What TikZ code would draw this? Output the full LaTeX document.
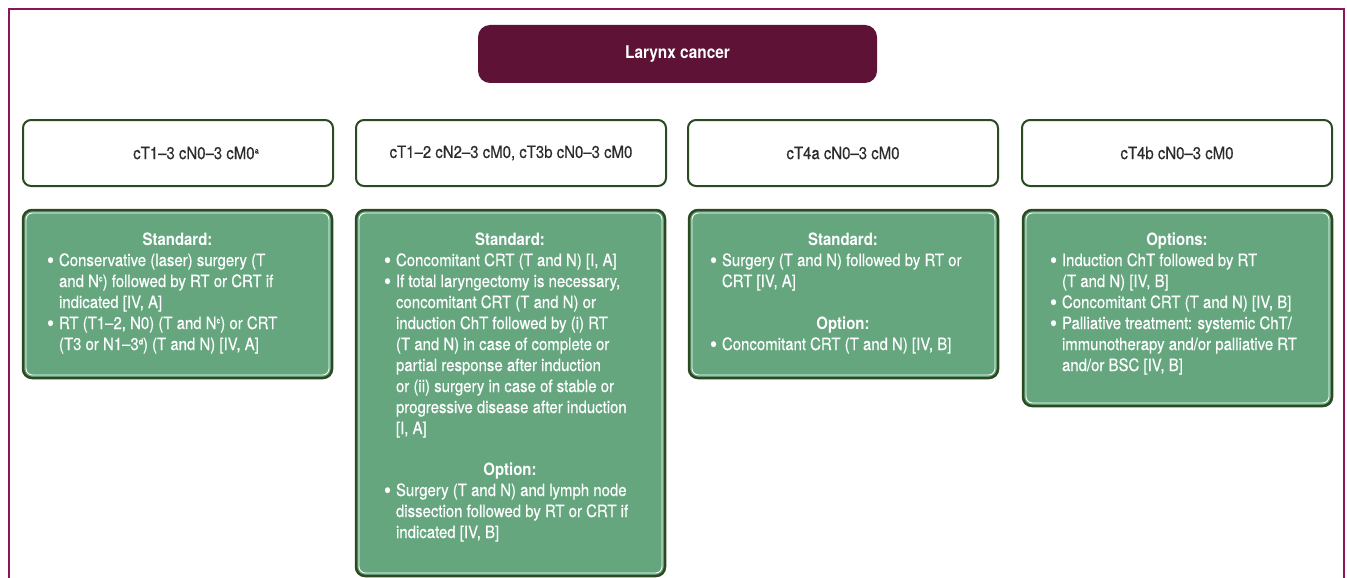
\documentclass[tikz,border=0pt]{standalone}
\usepackage{fontspec}
\setmainfont{TeX Gyre Heros}[FakeStretch=0.88]
\newfontfamily\bodyfont{TeX Gyre Heros}[FakeStretch=0.88, FakeBold=0.4]
\definecolor{frameC}{HTML}{8C1458}
\definecolor{titleC}{HTML}{5D1236}
\definecolor{dkgreen}{HTML}{2C4A21}
\definecolor{boxgreen}{HTML}{65A67F}
\definecolor{stagetxt}{HTML}{2B2B2B}
\newcommand{\bl}{\raisebox{-0.12ex}{\scalebox{1.35}{\bfseries\textbullet}}}
\newcommand{\supr}[1]{\raisebox{0.62ex}{\fontsize{8.5}{8.5}\selectfont #1}}
\begin{document}
\begin{tikzpicture}[x=1pt,y=-1pt,
  every node/.style={inner sep=0pt, outer sep=0pt},
  framepath/.style={draw=frameC, line width=2pt},
  titlebox/.style={fill=titleC, rounded corners=12pt, anchor=north west, minimum width=399pt, minimum height=58pt},
  titletext/.style={text=white, font=\fontsize{17.5}{21}\selectfont\bfseries},
  stagebox/.style={draw=dkgreen, line width=2pt, rounded corners=8pt, fill=white, anchor=north west, minimum width=310pt, minimum height=66pt},
  stagetext/.style={text=stagetxt, font=\bodyfont\fontsize{17}{21}\selectfont},
  greenbox/.style={draw=dkgreen, line width=2.5pt, rounded corners=9pt, fill=boxgreen, anchor=north west, minimum width=309pt},
  innerline/.style={draw=white, line width=0.9pt, rounded corners=6.5pt},
  headtext/.style={text=white, font=\fontsize{17}{21}\selectfont\bfseries, anchor=base},
  listtext/.style={text=white, font=\bodyfont\fontsize{17}{21}\selectfont, anchor=base west, align=left}
]
\useasboundingbox (0,0) rectangle (1347,578);
% frame
\coordinate (fbl) at (9,580);
\coordinate (ftl) at (9,9);
\coordinate (ftr) at (1344,9);
\coordinate (fbr) at (1344,580);
\draw[framepath] (fbl) -- (ftl) -- (ftr) -- (fbr);
% title
\node[titlebox] (title) at (478,25) {};
\node[titletext] (titlet) at (title.center) {Larynx cancer};
% stage boxes
\node[stagebox] (s1) at (23,120) {};
\node[stagebox] (s2) at (356,120) {};
\node[stagebox] (s3) at (688,120) {};
\node[stagebox] (s4) at (1022,120) {};
\node[stagetext] (s1t) at (196,153) {cT1–3 cN0–3 cM0\supr{a}};
\node[stagetext] (s2t) at (s2.center) {cT1–2 cN2–3 cM0, cT3b cN0–3 cM0};
\node[stagetext] (s3t) at (s3.center) {cT4a cN0–3 cM0};
\node[stagetext] (s4t) at (s4.center) {cT4b cN0–3 cM0};
% green boxes
\node[greenbox, minimum height=168pt] (g1) at (23,210) {};
\node[greenbox, minimum height=366pt] (g2) at (356,210) {};
\node[greenbox, minimum height=168pt] (g3) at (689,210) {};
\node[greenbox, minimum height=196pt] (g4) at (1023,210) {};
\foreach \n in {g1,g2,g3,g4}
  \draw[innerline] ([shift={(3,3)}]\n.north west) rectangle ([shift={(-3,-3)}]\n.south east);
% box 1
\node[headtext] (g1h) at (177.5,245) {Standard:};
\node[listtext] (g1l) at (47,266) {\begin{tabular}[t]{@{}p{12pt}@{}l@{}}
\bl & Conservative (laser) surgery (T\\
 & and N\supr{c}) followed by RT or CRT if\\
 & indicated [IV, A]\\
\bl & RT (T1–2, N0) (T and N\supr{c}) or CRT\\
 & (T3 or N1–3\supr{d}) (T and N) [IV, A]
\end{tabular}};
% box 2
\node[headtext] (g2h) at (510,245) {Standard:};
\node[listtext] (g2l) at (384,266) {\begin{tabular}[t]{@{}p{12pt}@{}l@{}}
\bl & Concomitant CRT (T and N) [I, A]\\
\bl & If total laryngectomy is necessary,\\
 & concomitant CRT (T and N) or\\
 & induction ChT followed by (i) RT\\
 & (T and N) in case of complete or\\
 & partial response after induction\\
 & or (ii) surgery in case of stable or\\
 & progressive disease after induction\\
 & [I, A]
\end{tabular}};
\node[headtext] (g2o) at (510,475) {Option:};
\node[listtext] (g2m) at (384,496) {\begin{tabular}[t]{@{}p{12pt}@{}l@{}}
\bl & Surgery (T and N) and lymph node\\
 & dissection followed by RT or CRT if\\
 & indicated [IV, B]
\end{tabular}};
% box 3
\node[headtext] (g3h) at (843,245) {Standard:};
\node[listtext] (g3l) at (710,266) {\begin{tabular}[t]{@{}p{12pt}@{}l@{}}
\bl & Surgery (T and N) followed by RT or\\
 & CRT [IV, A]
\end{tabular}};
\node[headtext] (g3o) at (843,329) {Option:};
\node[listtext] (g3m) at (710,350) {\begin{tabular}[t]{@{}p{12pt}@{}l@{}}
\bl & Concomitant CRT (T and N) [IV, B]
\end{tabular}};
% box 4
\node[headtext] (g4h) at (1177,245) {Options:};
\node[listtext] (g4l) at (1050,266) {\begin{tabular}[t]{@{}p{12pt}@{}l@{}}
\bl & Induction ChT followed by RT\\
 & (T and N) [IV, B]\\
\bl & Concomitant CRT (T and N) [IV, B]\\
\bl & Palliative treatment: systemic ChT/\\
 & immunotherapy and/or palliative RT\\
 & and/or BSC [IV, B]
\end{tabular}};
\end{tikzpicture}
\end{document}
